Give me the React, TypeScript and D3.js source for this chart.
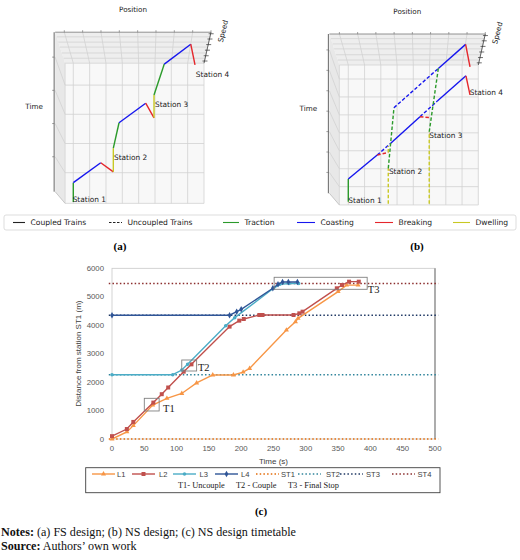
import * as d3 from "d3";

const SANS = "'DejaVu Sans', sans-serif";
const ARIAL = "'Liberation Sans', Arial, sans-serif";
const SERIF = "'Liberation Serif', 'Times New Roman', serif";

type Pt = [number, number];
type Mode = "traction" | "coasting" | "braking" | "dwelling";

const modeColor: Record<Mode, string> = {
  traction: "#2b9a2b",
  coasting: "#1616ee",
  braking: "#e5262b",
  dwelling: "#c8c823",
};

// (a) FS design - projected trajectory, (position, time) in grid units
const fsTrack: Pt[] = [
  [0, 0], [0, 0.66], [1.68, 1.34], [2.45, 1.03], [2.45, 1.84], [2.8, 2.71],
  [4.43, 3.38], [4.94, 2.88], [4.94, 3.66], [5.57, 4.72], [7.19, 5.4], [7.45, 4.69],
];
const fsModes: Mode[] = [
  "traction", "coasting", "braking", "dwelling", "traction", "coasting",
  "braking", "dwelling", "traction", "coasting", "braking",
];
const fsStations: [string, number, number][] = [
  ["Station 1", -0.04, 0.09],
  ["Station 2", 2.49, 1.53],
  ["Station 3", 5.0, 3.35],
  ["Station 4", 7.5, 4.37],
];

// (b) NS design
type Seg = { mode: Mode; dashed: boolean; pts: Pt[] };
const nsSegments: Seg[] = [
  { mode: "traction", dashed: false, pts: [[0, 0.16], [0, 1.43]] },
  { mode: "coasting", dashed: false, pts: [[0, 1.43], [1.78, 2.76]] },
  { mode: "coasting", dashed: true, pts: [[1.78, 2.76], [2.61, 3.42]] },
  { mode: "coasting", dashed: false, pts: [[2.61, 3.42], [4.41, 4.9]] },
  { mode: "coasting", dashed: true, pts: [[4.41, 4.9], [5.48, 5.77]] },
  { mode: "coasting", dashed: false, pts: [[5.48, 5.77], [7.24, 7.18]] },
  { mode: "braking", dashed: false, pts: [[7.24, 7.18], [7.49, 6.11]] },
  { mode: "braking", dashed: true, pts: [[1.78, 2.76], [2.46, 2.91]] },
  { mode: "dwelling", dashed: true, pts: [[2.46, 2.91], [2.46, 3.26]] },
  { mode: "braking", dashed: true, pts: [[4.41, 4.9], [4.98, 4.85]] },
  { mode: "dwelling", dashed: true, pts: [[2.46, 0.05], [2.46, 2.02]] },
  { mode: "traction", dashed: true, pts: [[2.46, 2.02], [2.81, 5.4]] },
  { mode: "coasting", dashed: true, pts: [[2.81, 5.4], [5.54, 7.59]] },
  { mode: "coasting", dashed: false, pts: [[5.54, 7.59], [7.22, 8.93]] },
  { mode: "braking", dashed: false, pts: [[7.22, 8.93], [7.49, 7.68]] },
  { mode: "dwelling", dashed: true, pts: [[4.98, 0.05], [4.98, 4.06]] },
  { mode: "traction", dashed: true, pts: [[4.98, 4.06], [5.54, 7.59]] },
];
const nsStations: [string, number, number][] = [
  ["Station 1", 0, 0.26],
  ["Station 2", 2.5, 1.87],
  ["Station 3", 4.98, 3.84],
  ["Station 4", 7.47, 6.23],
];

const modeLegend: [string, string, boolean][] = [
  ["Coupled Trains", "#222", false],
  ["Uncoupled Trains", "#222", true],
  ["Traction", modeColor.traction, false],
  ["Coasting", modeColor.coasting, false],
  ["Breaking", modeColor.braking, false],
  ["Dwelling", modeColor.dwelling, false],
];

// (c) NS design timetable
const timeTicks = [0, 50, 100, 150, 200, 250, 300, 350, 400, 450, 500];
const distTicks = [0, 1000, 2000, 3000, 4000, 5000, 6000];
const L1: Pt[] = [
  [0, 0], [23, 250], [33, 470], [63, 1195], [85, 1430], [108, 1600], [131, 1970],
  [156, 2250], [188, 2250], [203, 2350], [213, 2480], [270, 3830], [284, 4120],
  [288, 4240], [350, 5180], [363, 5410], [381, 5410],
];
const L2: Pt[] = [
  [0, 100], [23, 350], [33, 600], [64, 1280], [77, 1575], [87, 1810], [111, 2367],
  [123, 2624], [182, 3950], [197, 4160], [204, 4218], [228, 4358], [233, 4358],
  [281, 4358], [290, 4417], [295, 4475], [348, 5297], [356, 5413], [367, 5530], [382, 5530],
];
const L3: Pt[] = [
  [0, 2260], [94, 2260], [108, 2425], [117, 2624], [176, 3983], [190, 4265],
  [250, 5297], [260, 5437], [274, 5465], [289, 5465],
];
const L4: Pt[] = [
  [0, 4350], [182, 4350], [193, 4475], [200, 4558], [249, 5297], [257, 5437],
  [264, 5520], [273, 5520], [287, 5520],
];
const stationNames = ["ST1", "ST2", "ST3", "ST4"];
const stationDist = [0, 2260, 4350, 5470];
const stationSpan = [-5, 505];
const trainNames = ["L1", "L2", "L3", "L4"];
const trainColors = ["#f79646", "#c0504d", "#4bacc6", "#2f5597"];
const stationColors = ["#e46c0a", "#31859c", "#1f3864", "#8c2f2f"];
const events = [
  { label: "T1", t0: 50, t1: 73, d0: 985, d1: 1430, lt: 79, ld: 1080 },
  { label: "T2", t0: 108, t1: 131, d0: 2390, d1: 2777, lt: 133, ld: 2506 },
  { label: "T3", t0: 251, t1: 395, d0: 5262, d1: 5684, lt: 396, ld: 5272 },
];
const eventNotes = ["T1- Uncouple", "T2 - Couple", "T3 - Final Stop"];

function Panel({ xs, ys, pMin, pMax, tMin, tMax, segments, stations }: {
  xs: d3.ScaleLinear<number, number>;
  ys: d3.ScaleLinear<number, number>;
  pMin: number; pMax: number; tMin: number; tMax: number;
  segments: Seg[];
  stations: [string, number, number][];
}) {
  const fx0 = xs(pMin), fx1 = xs(pMax), fy0 = ys(tMax), fy1 = ys(tMin);
  const bx0 = fx0 - 10, bx1 = fx1 + 7, by0 = fy0 - 31, by1 = fy1 - 11.7;
  const backX = d3.scaleLinear([fx0, fx1], [bx0, bx1]);
  const backY = d3.scaleLinear([fy0, fy1], [by0, by1]);
  const cols = d3.range(Math.ceil(pMin), Math.floor(pMax) + 1);
  const rows = d3.range(1, Math.floor(tMax) + 1);
  const topFr = [0.15, 0.32, 0.48, 0.67, 0.84];
  const speedFr = [0.05, 0.22, 0.4, 0.58, 0.76, 0.93];
  const line = d3.line<Pt>().x((d) => xs(d[0])).y((d) => ys(d[1]));
  const gridC = "#d2d2d2";
  return (
    <g>
      <polygon points={`${bx0},${by0} ${bx1},${by0} ${fx1},${fy0} ${fx0},${fy0}`} fill="#eeeeee" />
      <polygon points={`${bx0},${by0} ${fx0},${fy0} ${fx0},${fy1} ${bx0},${by1}`} fill="#e8e8e8" />
      <rect x={fx0} y={fy0} width={fx1 - fx0} height={fy1 - fy0} fill="#f8f8f8" />
      {cols.map((p) => (
        <g key={`c${p}`}>
          <line x1={xs(p)} x2={xs(p)} y1={fy0} y2={fy1} stroke={gridC} strokeWidth={0.8} />
          <line x1={xs(p)} x2={backX(xs(p))} y1={fy0} y2={by0} stroke={gridC} strokeWidth={0.8} />
          <line x1={backX(xs(p))} x2={backX(xs(p))} y1={by0} y2={by0 - 2} stroke="#666" strokeWidth={0.6} />
        </g>
      ))}
      {rows.map((t) => (
        <g key={`r${t}`}>
          <line x1={fx0} x2={fx1} y1={ys(t)} y2={ys(t)} stroke={gridC} strokeWidth={0.8} />
          <line x1={fx0} x2={bx0} y1={ys(t)} y2={backY(ys(t))} stroke={gridC} strokeWidth={0.8} />
          <line x1={bx0 - 1} x2={bx0 - 3} y1={backY(ys(t))} y2={backY(ys(t))} stroke="#666" strokeWidth={0.6} />
        </g>
      ))}
      {topFr.map((f, i) => (
        <line key={`f${i}`}
          x1={bx0 + f * (fx0 - bx0)} x2={bx1 + f * (fx1 - bx1)}
          y1={by0 + f * (fy0 - by0)} y2={by0 + f * (fy0 - by0)}
          stroke={gridC} strokeWidth={0.8} />
      ))}
      <line x1={fx0} x2={fx1} y1={fy0} y2={fy0} stroke={gridC} strokeWidth={0.8} />
      <line x1={fx0} x2={fx1} y1={fy1} y2={fy1} stroke={gridC} strokeWidth={0.8} />
      <line x1={fx0} x2={fx0} y1={fy0} y2={fy1} stroke={gridC} strokeWidth={0.8} />
      <line x1={bx0} x2={fx0} y1={by1} y2={fy1} stroke="#bbb" strokeWidth={0.8} />
      <line x1={bx0} x2={bx1} y1={by0} y2={by0} stroke="#777" strokeWidth={0.8} />
      <line x1={bx0 - 1} x2={bx0 - 1} y1={by0} y2={by1} stroke="#555" strokeWidth={0.9} />
      <line x1={bx1} x2={fx1} y1={by0} y2={fy0} stroke="#444" strokeWidth={0.8} />
      {speedFr.map((f, i) => {
        const sx = bx1 + f * (fx1 - bx1), sy = by0 + f * (fy0 - by0);
        return <line key={`s${i}`} x1={sx - 2} x2={sx + 3} y1={sy} y2={sy} stroke="#333" strokeWidth={0.7} />;
      })}
      {segments.map((s, i) => (
        <path key={`g${i}`} d={line(s.pts) ?? ""} fill="none" stroke={modeColor[s.mode]}
          strokeWidth={1.4} strokeDasharray={s.dashed ? "3.5 2" : undefined} />
      ))}
      {stations.map(([name, p, t]) => (
        <text key={name} x={xs(p)} y={ys(t)} dy="0.35em" fontSize={7.4} fontFamily={SANS} fill="#222">{name}</text>
      ))}
      <text x={(bx0 + bx1) / 2} y={by0 - 23} textAnchor="middle" dy="0.35em" fontSize={7.2} fontFamily={SANS} fill="#222">Position</text>
      <text x={bx0 - 21} y={(by0 + by1) / 2 - 5} textAnchor="middle" dy="0.35em" fontSize={7.2} fontFamily={SANS} fill="#222">Time</text>
      <text transform={`translate(${bx1 + 12},${by0 - 1}) rotate(-76)`} textAnchor="middle" dy="0.35em" fontSize={7.2} fontFamily={SANS} fill="#222">Speed</text>
    </g>
  );
}

export default function App() {
  const xsA = d3.scaleLinear([0, 8], [73.3, 204]);
  const ysA = d3.scaleLinear([0, 4], [201.9, 85.1]);
  const xsB = d3.scaleLinear([0, 8], [348.3, 478.3]);
  const ysB = d3.scaleLinear([0, 7], [204.6, 79]);
  const fsSegments: Seg[] = fsModes.map((m, i) => ({ mode: m, dashed: false, pts: [fsTrack[i], fsTrack[i + 1]] }));

  const legendX = [13, 109, 223, 297, 375, 453];
  const legendW = [12, 13, 16, 18, 18, 17];

  const x = d3.scaleLinear([0, 500], [112, 435]);
  const y = d3.scaleLinear([0, 6000], [439, 268.3]);
  const trainLine = d3.line<Pt>().x((d) => x(d[0])).y((d) => y(d[1]));
  const symbols = [d3.symbolTriangle, d3.symbolSquare, d3.symbolCircle, d3.symbolDiamond];
  const symSize = [11, 16, 10, 12];
  const trains = [L1, L2, L3, L4];

  const cLegX = [92, 132, 173, 215, 256, 298, 340, 392];
  const cLegTextX = [117, 159, 199.5, 241, 281, 326, 366, 417.5];

  return (
    <div style={{ position: "absolute", left: 0, top: 0 }}>
      <svg width={520} height={560} style={{ display: "block", background: "#fff" }}>
        <Panel xs={xsA} ys={ysA} pMin={-0.5} pMax={8} tMin={-0.05} tMax={4.75} segments={fsSegments} stations={fsStations} />
        <Panel xs={xsB} ys={ysB} pMin={-0.55} pMax={8} tMin={-0.02} tMax={7.78} segments={nsSegments} stations={nsStations} />

        {/* legend (a)/(b) */}
        <rect x={4} y={215} width={512} height={15} rx={2} fill="#fff" stroke="#d4d4d4" strokeWidth={0.8} />
        {modeLegend.map(([name, col, dashed], i) => (
          <g key={name}>
            <line x1={legendX[i]} x2={legendX[i] + legendW[i]} y1={222.5} y2={222.5} stroke={col} strokeWidth={1.1}
              strokeDasharray={dashed ? "2.5 1.5" : undefined} />
            <text x={legendX[i] + legendW[i] + 5.5} y={222.5} dy="0.35em" fontSize={7.6} fontFamily={SANS} fill="#222">{name}</text>
          </g>
        ))}
        <text x={120} y={250} textAnchor="middle" fontSize={11} fontWeight="bold" fontFamily={SERIF}>(a)</text>
        <text x={417} y={250} textAnchor="middle" fontSize={11} fontWeight="bold" fontFamily={SERIF}>(b)</text>

        {/* chart (c) */}
        <rect x={x(0)} y={y(6000)} width={x(500) - x(0)} height={y(0) - y(6000)} fill="none" stroke="#c8c8c8" strokeWidth={0.8} />
        <line x1={x(500)} x2={x(500)} y1={y(6000)} y2={y(0)} stroke="#a6a6a6" strokeWidth={1.8} />
        {distTicks.map((d) => (
          <text key={d} x={104} y={y(d)} dy="0.35em" textAnchor="end" fontSize={7.8} fontFamily={ARIAL} fill="#595959">{d}</text>
        ))}
        {timeTicks.map((t) => (
          <text key={t} x={x(t)} y={451} textAnchor="middle" fontSize={7.8} fontFamily={ARIAL} fill="#595959">{t}</text>
        ))}
        <text x={x(250)} y={464} textAnchor="middle" fontSize={8} fontFamily={ARIAL} fill="#404040">Time (s)</text>
        <text transform={`translate(81,${y(3000)}) rotate(-90)`} textAnchor="middle" fontSize={8} fontFamily={ARIAL} fill="#404040">Distance from station ST1 (m)</text>

        {stationDist.map((d, i) => (
          <line key={stationNames[i]} x1={x(stationSpan[0])} x2={x(stationSpan[1])} y1={y(d)} y2={y(d)}
            stroke={stationColors[i]} strokeWidth={1.5} strokeDasharray="1.5 2.2" />
        ))}
        {trains.map((pts, i) => (
          <g key={trainNames[i]}>
            <path d={trainLine(pts) ?? ""} fill="none" stroke={trainColors[i]} strokeWidth={1.4} />
            {pts.map((p, j) => (
              <path key={j} transform={`translate(${x(p[0])},${y(p[1])})`}
                d={d3.symbol(symbols[i], symSize[i])() ?? ""} fill={trainColors[i]} />
            ))}
          </g>
        ))}
        {events.map((e) => (
          <g key={e.label}>
            <rect x={x(e.t0)} y={y(e.d1)} width={x(e.t1) - x(e.t0)} height={y(e.d0) - y(e.d1)} fill="none" stroke="#808080" strokeWidth={0.9} />
            <text x={x(e.lt)} y={y(e.ld)} dy="0.35em" fontSize={10.5} fontFamily={SERIF} fill="#222">{e.label}</text>
          </g>
        ))}

        {/* legend (c) */}
        <rect x={85.7} y={467.7} width={354.3} height={25} fill="#fff" stroke="#404040" strokeWidth={0.9} />
        {trainNames.map((n, i) => (
          <g key={n}>
            <line x1={cLegX[i]} x2={cLegX[i] + 23} y1={474} y2={474} stroke={trainColors[i]} strokeWidth={1.4} />
            <path transform={`translate(${cLegX[i] + 11.5},474)`} d={d3.symbol(symbols[i], symSize[i])() ?? ""} fill={trainColors[i]} />
            <text x={cLegTextX[i]} y={474} dy="0.35em" fontSize={7.6} fontFamily={ARIAL} fill="#404040">{n}</text>
          </g>
        ))}
        {stationNames.map((n, i) => (
          <g key={n}>
            <line x1={cLegX[i + 4]} x2={cLegX[i + 4] + 23} y1={474} y2={474} stroke={stationColors[i]} strokeWidth={1.5} strokeDasharray="1.5 2.2" />
            <text x={cLegTextX[i + 4]} y={474} dy="0.35em" fontSize={7.6} fontFamily={ARIAL} fill="#404040">{n}</text>
          </g>
        ))}
        {eventNotes.map((n, i) => (
          <text key={n} x={[178, 236, 288][i]} y={485.5} dy="0.35em" fontSize={8.4} fontFamily={SERIF} fill="#222">{n}</text>
        ))}
        <text x={261} y={515} textAnchor="middle" fontSize={11} fontWeight="bold" fontFamily={SERIF}>(c)</text>

        <text x={1} y={535.5} fontSize={12.1} fontFamily={SERIF} fill="#111">
          <tspan fontWeight="bold">Notes:</tspan> (a) FS design; (b) NS design; (c) NS design timetable
        </text>
        <text x={1} y={550} fontSize={12.1} fontFamily={SERIF} fill="#111">
          <tspan fontWeight="bold">Source:</tspan> Authors’ own work
        </text>
      </svg>
    </div>
  );
}
